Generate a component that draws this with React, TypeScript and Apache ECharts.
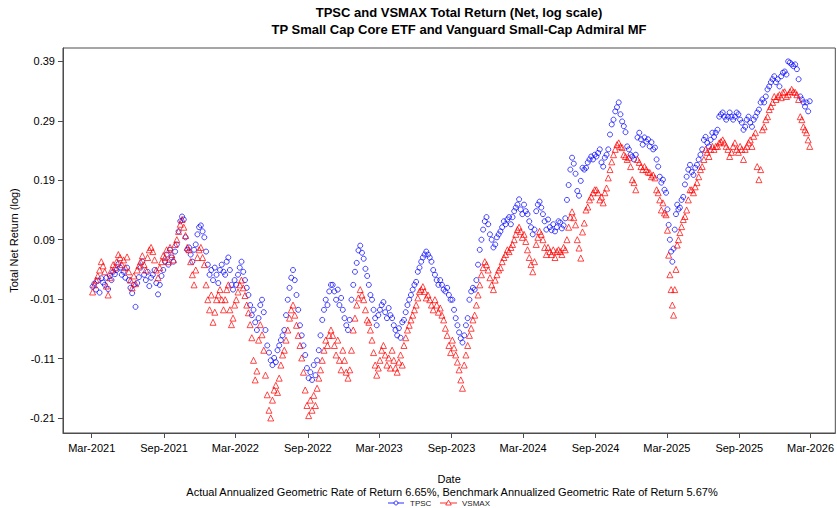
import React, { useEffect, useRef } from "react";
import * as echarts from "echarts";

// ---- Data (log total net return), 1 block per month ----
// TPSC: TP Small Cap Core ETF
const TPSC_2021: number[][] = [
  [0.011, 0.016, 0.006, 0.021, 0.001, 0.025, 0.018],
  [0.014, 0.026, 0.007, 0.029, 0.022, 0.036, 0.032],
  [0.039, 0.049, 0.043, 0.031, 0.036, 0.026, 0.043],
  [0.022, 0.009, 0.0, 0.014, -0.023, 0.017, 0.027],
  [0.043, 0.053, 0.031, 0.022, 0.036, 0.012, 0.026],
  [0.031, 0.039, 0.017, -0.002, 0.014, 0.029, 0.039],
  [0.053, 0.065, 0.048, 0.073, 0.06, 0.053, 0.07],
  [0.082, 0.104, 0.121, 0.129, 0.124, 0.094, 0.073],
  [0.077, 0.065, 0.053, 0.073, 0.082, 0.099, 0.111],
  [0.114, 0.104, 0.094, 0.07, 0.048, 0.031, 0.039],
];
const TPSC_2022: number[][] = [
  [0.022, 0.043, 0.031, 0.017, 0.039, 0.048, 0.036],
  [0.031, 0.053, 0.06, 0.039, 0.014, 0.006, 0.022],
  [0.014, 0.031, 0.043, 0.053, 0.036, 0.022, 0.009],
  [-0.003, -0.02, -0.037, -0.028, -0.049, -0.062, -0.042],
  [-0.02, -0.011, -0.032, -0.062, -0.088, -0.1, -0.113],
  [-0.121, -0.109, -0.116, -0.096, -0.088, -0.079, -0.071],
  [-0.062, -0.037, -0.011, 0.009, 0.026, 0.039, 0.022],
  [-0.003, -0.028, -0.054, -0.071, -0.088, -0.104, -0.126],
  [-0.143, -0.133, -0.146, -0.121, -0.138, -0.113, -0.096],
  [-0.071, -0.045, -0.028, -0.011, -0.02, 0.003, 0.014],
  [0.014, 0.003, -0.011, 0.006, -0.02, -0.008, -0.028],
  [-0.042, -0.054, -0.062, -0.045, -0.011, 0.014, 0.036],
];
const TPSC_2023: number[][] = [
  [0.051, 0.072, 0.08, 0.068, 0.058, 0.041, 0.029],
  [0.014, -0.003, -0.011, -0.028, -0.042, -0.054, -0.037],
  [-0.028, -0.02, -0.015, -0.032, -0.042, -0.025, -0.037],
  [-0.042, -0.054, -0.062, -0.071, -0.059, -0.075, -0.049],
  [-0.045, -0.032, -0.02, -0.011, -0.003, 0.006, 0.014],
  [0.019, 0.036, 0.043, 0.053, 0.06, 0.065, 0.07],
  [0.065, 0.06, 0.053, 0.039, 0.031, 0.022, 0.014],
  [0.022, 0.014, 0.006, 0.003, 0.009, -0.003, -0.011],
  [-0.011, -0.028, -0.042, -0.054, -0.066, -0.076, -0.083],
  [-0.071, -0.054, -0.042, -0.011, 0.003, 0.009, 0.006],
  [0.022, 0.048, 0.073, 0.09, 0.107, 0.121, 0.128],
  [0.116, 0.099, 0.09, 0.077, 0.082, 0.094, 0.099],
];
const TPSC_2024: number[][] = [
  [0.104, 0.111, 0.121, 0.116, 0.124, 0.128, 0.116],
  [0.128, 0.138, 0.144, 0.149, 0.158, 0.141, 0.133],
  [0.149, 0.138, 0.133, 0.121, 0.111, 0.099, 0.107],
  [0.138, 0.149, 0.154, 0.144, 0.133, 0.121, 0.107],
  [0.124, 0.111, 0.106, 0.116, 0.104, 0.111, 0.121],
  [0.119, 0.109, 0.114, 0.126, 0.157, 0.182, 0.208],
  [0.228, 0.218, 0.201, 0.172, 0.164, 0.189, 0.211],
  [0.208, 0.211, 0.22, 0.225, 0.23, 0.225, 0.233],
  [0.23, 0.236, 0.242, 0.22, 0.213, 0.228, 0.233],
  [0.242, 0.267, 0.284, 0.292, 0.306, 0.313, 0.321],
  [0.301, 0.289, 0.281, 0.271, 0.247, 0.242, 0.233],
  [0.23, 0.225, 0.233, 0.262, 0.27, 0.259, 0.25],
];
const TPSC_2025: number[][] = [
  [0.262, 0.255, 0.259, 0.247, 0.254, 0.242, 0.245],
  [0.225, 0.213, 0.196, 0.186, 0.191, 0.174, 0.169],
  [0.141, 0.115, 0.09, 0.07, 0.053, 0.075, 0.107, 0.133, 0.149, 0.141],
  [0.144, 0.157, 0.162, 0.183, 0.196, 0.208, 0.216],
  [0.204, 0.199, 0.211, 0.216, 0.225, 0.233, 0.242],
  [0.258, 0.263, 0.253, 0.247, 0.258, 0.27, 0.263],
  [0.27, 0.275, 0.297, 0.301, 0.304, 0.297, 0.292],
  [0.297, 0.304, 0.297, 0.292, 0.297, 0.304, 0.301],
  [0.292, 0.287, 0.275, 0.28, 0.292, 0.297, 0.287],
  [0.28, 0.292, 0.297, 0.304, 0.309, 0.321, 0.326],
  [0.321, 0.331, 0.343, 0.348, 0.355, 0.36, 0.365],
  [0.355, 0.36, 0.348, 0.365, 0.371, 0.373, 0.368],
];
const TPSC_2026: number[][] = [
  [0.39, 0.388, 0.385, 0.382, 0.385, 0.377, 0.36],
  [0.331, 0.326, 0.321, 0.314, 0.321, 0.306, 0.323],
];

// VSMAX: Vanguard Small-Cap Admiral MF (benchmark)
const VSMAX_2021: number[][] = [
  [0.002, 0.014, 0.022, 0.029, 0.039, 0.053, 0.046],
  [0.036, 0.012, -0.003, 0.026, 0.039, 0.048, 0.043],
  [0.053, 0.065, 0.06, 0.048, 0.056, 0.043, 0.061],
  [0.036, 0.022, 0.009, 0.029, 0.016, 0.039, 0.046],
  [0.053, 0.063, 0.048, 0.039, 0.06, 0.073, 0.077],
  [0.07, 0.056, 0.039, 0.026, 0.043, 0.053, 0.063],
  [0.06, 0.073, 0.053, 0.077, 0.065, 0.056, 0.082],
  [0.09, 0.104, 0.116, 0.124, 0.111, 0.097, 0.077],
  [0.073, 0.053, 0.031, 0.014, 0.039, 0.06, 0.073],
  [0.077, 0.06, 0.048, 0.014, -0.011, -0.028, -0.003],
];
const VSMAX_2022: number[][] = [
  [-0.049, -0.032, -0.011, -0.003, 0.006, -0.011, -0.028],
  [-0.011, 0.006, 0.014, -0.028, -0.053, -0.042, -0.02],
  [-0.011, 0.002, 0.014, 0.022, 0.009, -0.004, -0.02],
  [-0.033, -0.053, -0.075, -0.113, -0.146, -0.131, -0.079],
  [-0.053, -0.07, -0.096, -0.138, -0.171, -0.197, -0.21],
  [-0.18, -0.163, -0.155, -0.167, -0.143, -0.121, -0.104],
  [-0.096, -0.079, -0.062, -0.042, -0.028, -0.02, -0.037],
  [-0.054, -0.071, -0.088, -0.109, -0.133, -0.163, -0.189],
  [-0.206, -0.18, -0.197, -0.172, -0.189, -0.16, -0.143],
  [-0.129, -0.113, -0.096, -0.079, -0.088, -0.071, -0.062],
  [-0.071, -0.088, -0.104, -0.079, -0.113, -0.129, -0.096],
  [-0.113, -0.133, -0.143, -0.129, -0.096, -0.062, -0.042],
];
const VSMAX_2023: number[][] = [
  [-0.02, -0.008, 0.006, -0.003, -0.011, -0.028, -0.045],
  [-0.049, -0.062, -0.079, -0.1, -0.121, -0.138, -0.126],
  [-0.113, -0.096, -0.088, -0.104, -0.121, -0.109, -0.126],
  [-0.096, -0.113, -0.126, -0.133, -0.116, -0.104, -0.121],
  [-0.088, -0.075, -0.062, -0.054, -0.045, -0.037, -0.028],
  [-0.02, -0.008, 0.003, 0.006, 0.011, 0.003, -0.008],
  [-0.003, -0.011, -0.02, -0.028, -0.011, -0.02, -0.032],
  [-0.025, -0.037, -0.045, -0.059, -0.071, -0.088, -0.1],
  [-0.079, -0.092, -0.104, -0.116, -0.129, -0.146, -0.16],
  [-0.121, -0.104, -0.088, -0.071, -0.059, -0.045, -0.037],
  [-0.02, -0.003, 0.014, 0.031, 0.043, 0.053, 0.048],
  [0.039, 0.026, 0.014, 0.006, 0.022, 0.031, 0.039],
];
const VSMAX_2024: number[][] = [
  [0.043, 0.053, 0.06, 0.065, 0.073, 0.07, 0.077],
  [0.082, 0.09, 0.099, 0.107, 0.111, 0.104, 0.094],
  [0.099, 0.087, 0.073, 0.06, 0.048, 0.036, 0.053],
  [0.082, 0.094, 0.104, 0.099, 0.09, 0.077, 0.065],
  [0.077, 0.07, 0.065, 0.073, 0.06, 0.07, 0.073],
  [0.07, 0.065, 0.077, 0.073, 0.09, 0.111, 0.128],
  [0.137, 0.127, 0.115, 0.09, 0.076, 0.059, 0.103],
  [0.118, 0.14, 0.145, 0.157, 0.162, 0.169, 0.174],
  [0.174, 0.169, 0.157, 0.162, 0.152, 0.169, 0.177],
  [0.194, 0.208, 0.221, 0.233, 0.242, 0.25, 0.253],
  [0.247, 0.245, 0.233, 0.23, 0.225, 0.228, 0.213],
  [0.191, 0.186, 0.174, 0.225, 0.22, 0.213, 0.208],
];
const VSMAX_2025: number[][] = [
  [0.213, 0.208, 0.204, 0.203, 0.196, 0.199, 0.194],
  [0.174, 0.169, 0.157, 0.14, 0.152, 0.135, 0.132],
  [0.106, 0.064, 0.031, 0.006, -0.02, -0.037, 0.006, 0.04, 0.081, 0.09],
  [0.102, 0.112, 0.124, 0.129, 0.14, 0.157, 0.174],
  [0.174, 0.169, 0.179, 0.186, 0.196, 0.208, 0.213],
  [0.225, 0.242, 0.237, 0.23, 0.242, 0.247, 0.242],
  [0.247, 0.247, 0.253, 0.255, 0.258, 0.253, 0.247],
  [0.242, 0.23, 0.237, 0.247, 0.253, 0.242, 0.237],
  [0.247, 0.242, 0.225, 0.242, 0.247, 0.253, 0.258],
  [0.247, 0.264, 0.27, 0.213, 0.191, 0.208, 0.275],
  [0.28, 0.292, 0.297, 0.309, 0.314, 0.321, 0.331],
  [0.326, 0.331, 0.334, 0.329, 0.338, 0.339, 0.331],
];
const VSMAX_2026: number[][] = [
  [0.334, 0.339, 0.343, 0.339, 0.338, 0.334, 0.326],
  [0.297, 0.292, 0.28, 0.275, 0.27, 0.258, 0.247],
];

// Tick labels
const Y_TICKS = [-0.21, -0.11, -0.01, 0.09, 0.19, 0.29, 0.39];
const X_TICK_DATES: [number, number][] = [
  [2021, 2], [2021, 8], [2022, 2], [2022, 8], [2023, 2], [2023, 8],
  [2024, 2], [2024, 8], [2025, 2], [2025, 8], [2026, 2],
];
const MONTHS = ["Jan", "Feb", "Mar", "Apr", "May", "Jun", "Jul", "Aug", "Sep", "Oct", "Nov", "Dec"];

const TITLE1 = "TPSC and VSMAX Total Return (Net, log scale)";
const TITLE2 = "TP Small Cap Core ETF and Vanguard Small-Cap Admiral MF";
const FOOTNOTE =
  "Actual Annualized Geometric Rate of Return 6.65%, Benchmark Annualized Geometric Rate of Return 5.67%";
const LEGEND_NAMES = ["TPSC", "VSMAX"];

const DAY = 86400000;
const FONT = '"Liberation Sans", Arial, Helvetica, sans-serif';

type Block = { year: number; firstMonth: number; months: number[][] };

function build(blocks: Block[]): [number, number][] {
  const out: [number, number][] = [];
  blocks.forEach((b) => {
    b.months.forEach((vals, i) => {
      const m = b.firstMonth + i;
      const start = Date.UTC(b.year, m, 1);
      const end = Date.UTC(b.year, m + 1, 1);
      const n = vals.length;
      vals.forEach((v, k) => {
        out.push([start + ((k + 0.5) * (end - start)) / n, v]);
      });
    });
  });
  return out;
}

const tpscData = build([
  { year: 2021, firstMonth: 2, months: TPSC_2021 },
  { year: 2022, firstMonth: 0, months: TPSC_2022 },
  { year: 2023, firstMonth: 0, months: TPSC_2023 },
  { year: 2024, firstMonth: 0, months: TPSC_2024 },
  { year: 2025, firstMonth: 0, months: TPSC_2025 },
  { year: 2026, firstMonth: 0, months: TPSC_2026 },
]);
const vsmaxData = build([
  { year: 2021, firstMonth: 2, months: VSMAX_2021 },
  { year: 2022, firstMonth: 0, months: VSMAX_2022 },
  { year: 2023, firstMonth: 0, months: VSMAX_2023 },
  { year: 2024, firstMonth: 0, months: VSMAX_2024 },
  { year: 2025, firstMonth: 0, months: VSMAX_2025 },
  { year: 2026, firstMonth: 0, months: VSMAX_2026 },
]);

const xTicks = X_TICK_DATES.map(([y, m]) => Date.UTC(y, m, 1));

export default function App() {
  const ref = useRef<HTMLDivElement>(null);
  useEffect(() => {
    if (!ref.current) return;
    const chart = echarts.init(ref.current, undefined, { renderer: "svg" });
    const axisColor = "#4d4d4d";
    const LY = 503;
    const option: any = {
      animation: false,
      backgroundColor: "#ffffff",
      textStyle: { fontFamily: FONT },
      title: [
        {
          text: TITLE1,
          left: 454,
          top: 1,
          textAlign: "center",
          textStyle: { fontFamily: FONT, fontSize: 13, fontWeight: "bold", color: "#000" },
        },
        {
          text: TITLE2,
          left: 454,
          top: 18,
          textAlign: "center",
          textStyle: { fontFamily: FONT, fontSize: 13, fontWeight: "bold", color: "#000" },
        },
      ],
      grid: {
        left: 61,
        top: 48,
        right: -5,
        bottom: 75,
        show: true,
        borderColor: axisColor,
        borderWidth: 1,
        backgroundColor: "transparent",
      },
      xAxis: {
        type: "value",
        min: Date.UTC(2021, 2, 1) - 73 * DAY,
        max: Date.UTC(2026, 2, 1) + 63 * DAY,
        name: "Date",
        nameLocation: "middle",
        nameGap: 40,
        nameTextStyle: { fontFamily: FONT, fontSize: 11, color: "#000" },
        axisLine: { show: true, onZero: false, lineStyle: { color: axisColor, width: 1 } },
        axisTick: { show: true, customValues: xTicks, length: 5, lineStyle: { color: axisColor } },
        axisLabel: {
          customValues: xTicks,
          margin: 9,
          fontFamily: FONT,
          fontSize: 11,
          color: "#000",
          hideOverlap: false,
          showMinLabel: true,
          showMaxLabel: true,
          formatter: (v: number) => {
            const d = new Date(v);
            return MONTHS[d.getUTCMonth()] + "-" + d.getUTCFullYear();
          },
        },
        splitLine: { show: false },
      },
      yAxis: {
        type: "value",
        min: -0.2353,
        max: 0.4126,
        name: "Total Net Return (log)",
        nameLocation: "middle",
        nameGap: 33,
        nameTextStyle: { fontFamily: FONT, fontSize: 11, color: "#000" },
        axisLine: { show: true, onZero: false, lineStyle: { color: axisColor, width: 1 } },
        axisTick: { show: true, customValues: Y_TICKS, length: 5, lineStyle: { color: axisColor } },
        axisLabel: {
          customValues: Y_TICKS,
          margin: 8,
          fontFamily: FONT,
          fontSize: 11,
          color: "#000",
          formatter: (v: number) => v.toFixed(2),
        },
        splitLine: { show: false },
      },
      series: [
        {
          name: LEGEND_NAMES[0],
          type: "scatter",
          symbol: "circle",
          symbolSize: 5,
          data: tpscData,
          itemStyle: { color: "rgba(0,0,0,0)", borderColor: "rgba(0,0,255,0.9)", borderWidth: 1 },
          emphasis: { disabled: true },
        },
        {
          name: LEGEND_NAMES[1],
          type: "scatter",
          symbol: "triangle",
          symbolSize: 6,
          data: vsmaxData,
          itemStyle: { color: "rgba(0,0,0,0)", borderColor: "rgba(255,0,0,0.9)", borderWidth: 1 },
          emphasis: { disabled: true },
        },
      ],
      graphic: {
        elements: [
          {
            id: "foot",
            type: "text",
            x: 452,
            y: 492,
            z: 100,
            style: {
              text: FOOTNOTE,
              font: `11px ${FONT}`,
              fill: "#000",
              textAlign: "center",
              textVerticalAlign: "middle",
            },
          },
          {
            id: "lg-b-line",
            type: "line",
            z: 100,
            shape: { x1: 388, y1: LY, x2: 404, y2: LY },
            style: { stroke: "rgba(0,0,255,0.55)", lineWidth: 1.5 },
          },
          {
            id: "lg-b-sym",
            type: "circle",
            z: 101,
            shape: { cx: 396, cy: LY, r: 2 },
            style: { fill: "#fff", stroke: "rgba(0,0,255,0.75)", lineWidth: 1 },
          },
          {
            id: "lg-b-text",
            type: "text",
            x: 410,
            y: LY,
            z: 100,
            style: { text: LEGEND_NAMES[0], font: `8px ${FONT}`, fill: "#222", textVerticalAlign: "middle" },
          },
          {
            id: "lg-r-line",
            type: "line",
            z: 100,
            shape: { x1: 440, y1: LY, x2: 457, y2: LY },
            style: { stroke: "rgba(255,0,0,0.55)", lineWidth: 1.5 },
          },
          {
            id: "lg-r-sym",
            type: "polygon",
            z: 101,
            shape: { points: [[448.5, LY - 2.8], [451.3, LY + 2], [445.7, LY + 2]] },
            style: { fill: "#fff", stroke: "rgba(255,0,0,0.75)", lineWidth: 1 },
          },
          {
            id: "lg-r-text",
            type: "text",
            x: 462,
            y: LY,
            z: 100,
            style: { text: LEGEND_NAMES[1], font: `8px ${FONT}`, fill: "#222", textVerticalAlign: "middle" },
          },
        ],
      },
    };
    chart.setOption(option);
    return () => chart.dispose();
  }, []);
  return (
    <div
      ref={ref}
      style={{ position: "absolute", left: 0, top: 0, width: 837, height: 508 }}
    />
  );
}
